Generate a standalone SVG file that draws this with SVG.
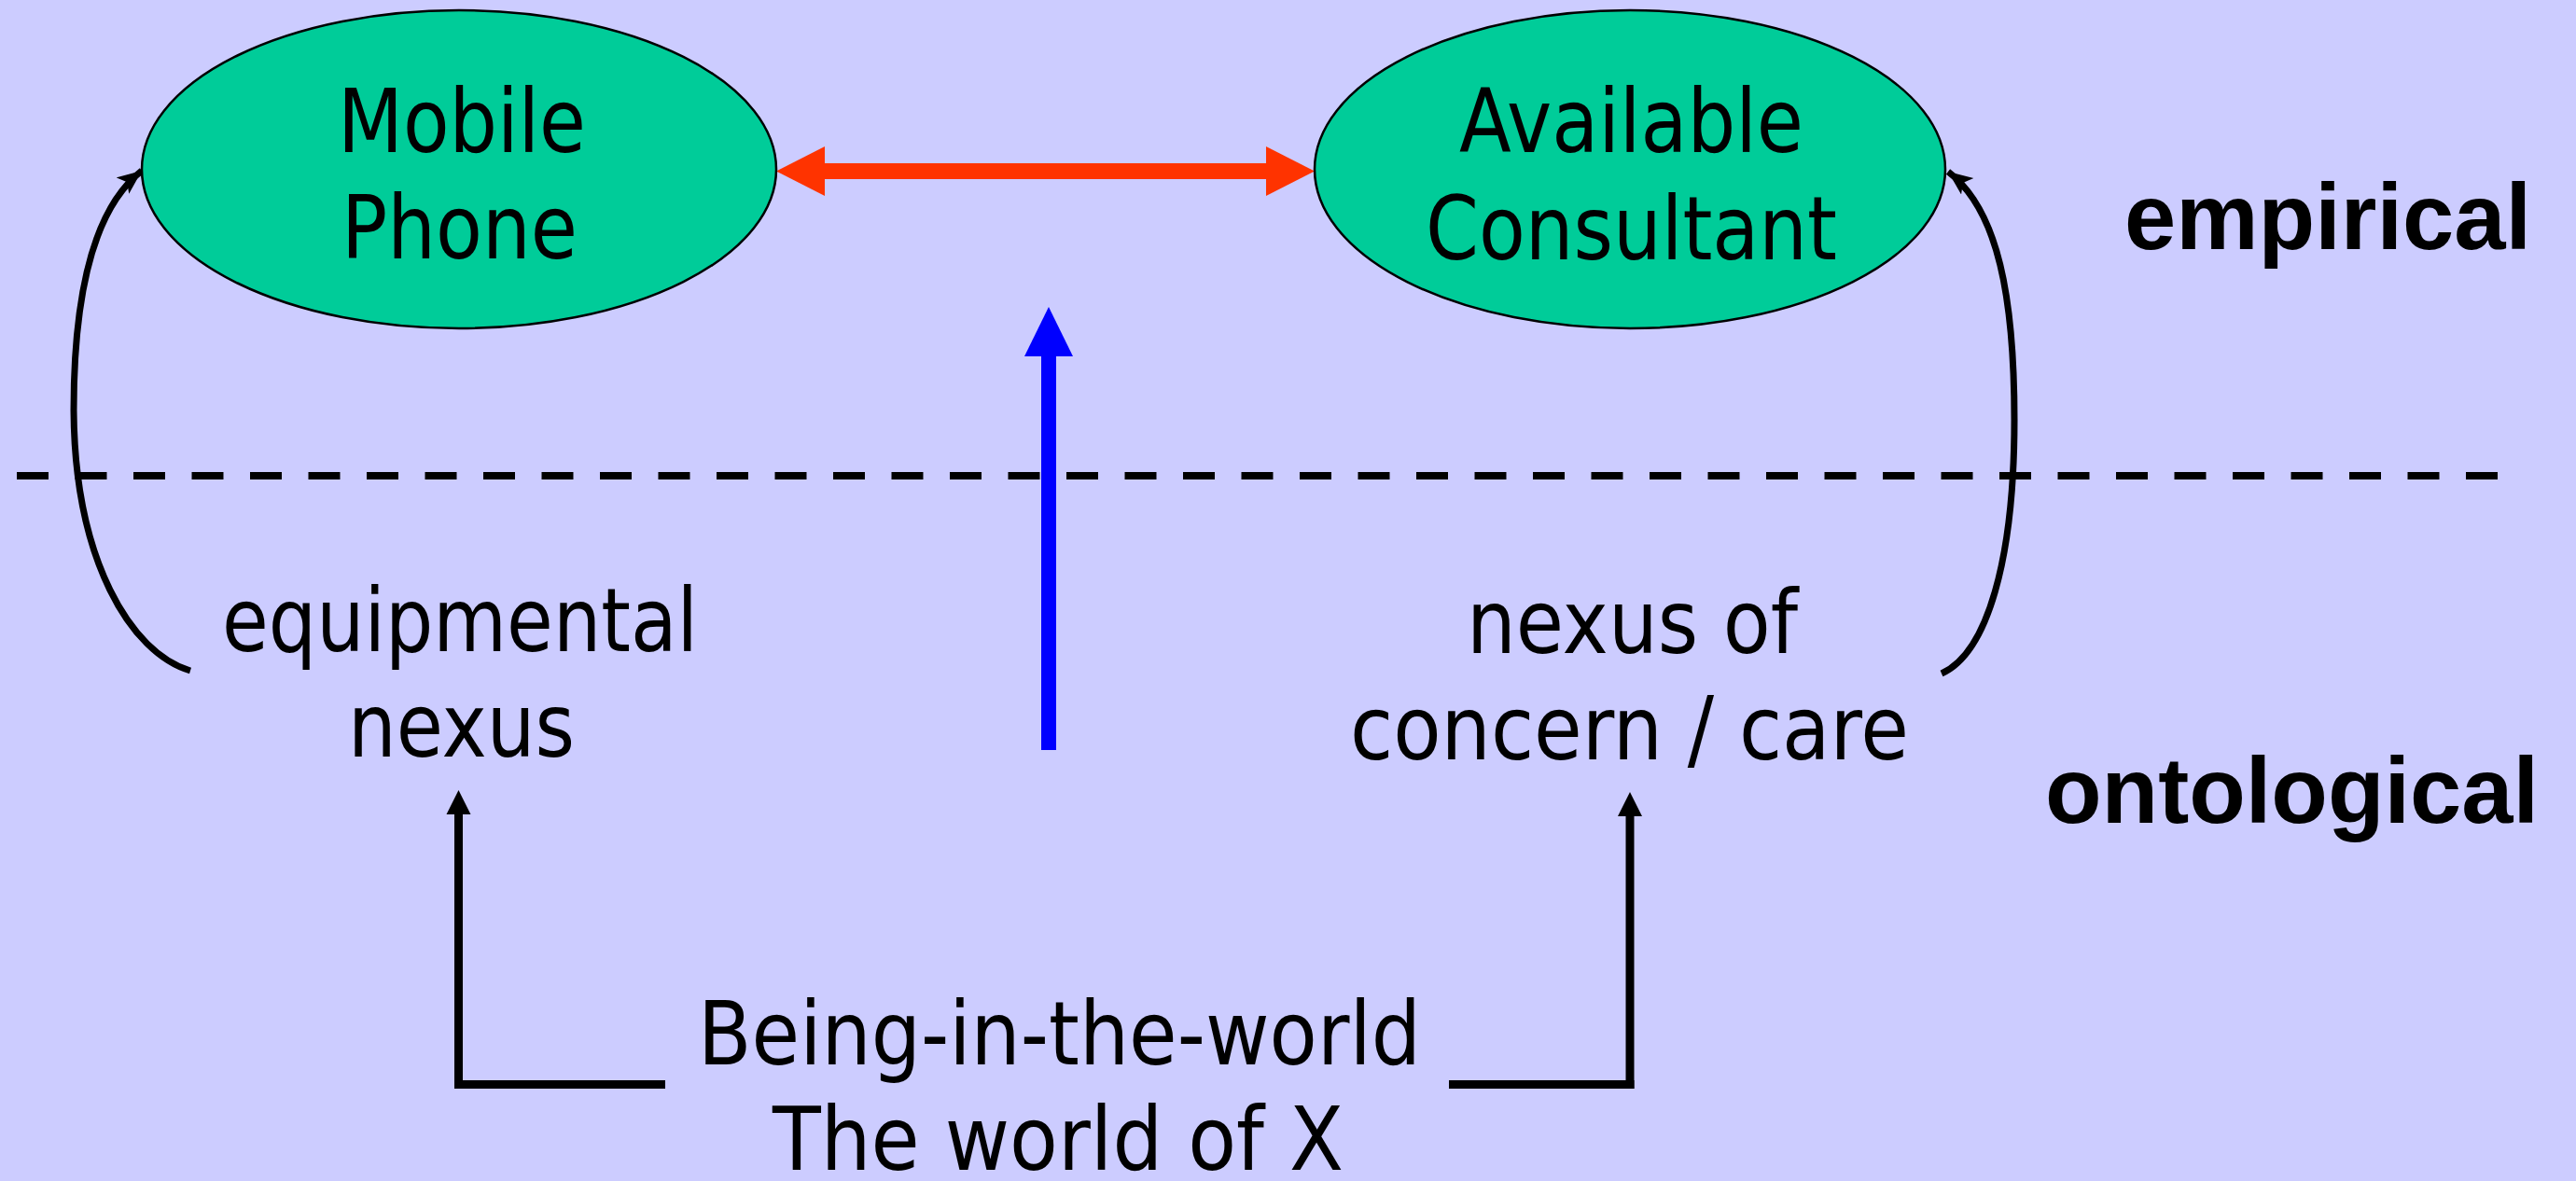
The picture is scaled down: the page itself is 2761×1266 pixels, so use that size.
<svg xmlns="http://www.w3.org/2000/svg" width="2761" height="1266" viewBox="0 0 2761 1266">
<defs>
<style>
.t{font-family:"DejaVu Sans","Liberation Sans",sans-serif;font-size:95px;fill:#000}
.b{font-family:"Liberation Sans",Arial,sans-serif;font-weight:bold;font-size:100px;fill:#000}
.node{fill:#00CC99;stroke:#000;stroke-width:2.5}
.curve{fill:none;stroke:#000;stroke-width:7}
</style>
<marker id="ah" markerUnits="userSpaceOnUse" markerWidth="30" markerHeight="24" refX="26" refY="11" orient="auto">
<path d="M0,0 L26,11 L0,22 L6,11 Z" fill="#000"/>
</marker>
</defs>
<rect width="2761" height="1266" fill="#CCCCFF"/>
<g id="connectors">
<line x1="18" y1="510" x2="2682" y2="510" stroke="#000" stroke-width="8" stroke-dasharray="34 28.5"/>
<rect x="884" y="175" width="473" height="17" fill="#FF3300"/>
<polygon points="832,183.5 884,157 884,210" fill="#FF3300"/>
<polygon points="1409,183.5 1357,157 1357,210" fill="#FF3300"/>
<rect x="1116" y="380" width="16" height="424" fill="#0000FF"/>
<polygon points="1124,329 1098,382 1150,382" fill="#0000FF"/>
<path class="curve" d="M204,719 C140,700 80,600 79,440 C79,320 98,225 152,183" marker-end="url(#ah)"/>
<path class="curve" d="M2081,722 C2130,700 2159,600 2159,450 C2159,320 2142,225 2088,184" marker-end="url(#ah)"/>
<rect x="487" y="870" width="9" height="297" fill="#000"/>
<polygon points="491.5,847 478.5,873 504.5,873" fill="#000"/>
<rect x="487" y="1158" width="226" height="9" fill="#000"/>
<rect x="1742.5" y="872" width="9" height="295" fill="#000"/>
<polygon points="1747,849 1734,875 1760,875" fill="#000"/>
<rect x="1553" y="1158" width="198.5" height="9" fill="#000"/>
</g>
<g id="node-mobile-phone">
<ellipse class="node" cx="492" cy="181.5" rx="340" ry="170.5"/>
<text class="t" x="362" y="163" textLength="266" lengthAdjust="spacingAndGlyphs">Mobile</text>
<text class="t" x="366" y="277" textLength="253" lengthAdjust="spacingAndGlyphs">Phone</text>
</g>
<g id="node-available-consultant">
<ellipse class="node" cx="1747" cy="181.5" rx="338" ry="170.5"/>
<text class="t" x="1564" y="163" textLength="369" lengthAdjust="spacingAndGlyphs">Available</text>
<text class="t" x="1528" y="278" textLength="441" lengthAdjust="spacingAndGlyphs">Consultant</text>
</g>
<g id="node-equipmental-nexus">
<text class="t" x="238" y="698" textLength="510" lengthAdjust="spacingAndGlyphs">equipmental</text>
<text class="t" x="373" y="811" textLength="243" lengthAdjust="spacingAndGlyphs">nexus</text>
</g>
<g id="node-nexus-of-concern">
<text class="t" x="1572" y="700" textLength="355" lengthAdjust="spacingAndGlyphs">nexus of</text>
<text class="t" x="1447" y="814" textLength="599" lengthAdjust="spacingAndGlyphs">concern / care</text>
</g>
<g id="node-being-in-the-world">
<text class="t" x="748" y="1141" textLength="775" lengthAdjust="spacingAndGlyphs">Being-in-the-world</text>
<text class="t" x="828" y="1254" textLength="612" lengthAdjust="spacingAndGlyphs">The world of X</text>
</g>
<g id="label-empirical">
<text class="b" x="2277" y="267" textLength="436" lengthAdjust="spacingAndGlyphs">empirical</text>
</g>
<g id="label-ontological">
<text class="b" x="2192" y="882" textLength="529" lengthAdjust="spacingAndGlyphs">ontological</text>
</g>
</svg>
